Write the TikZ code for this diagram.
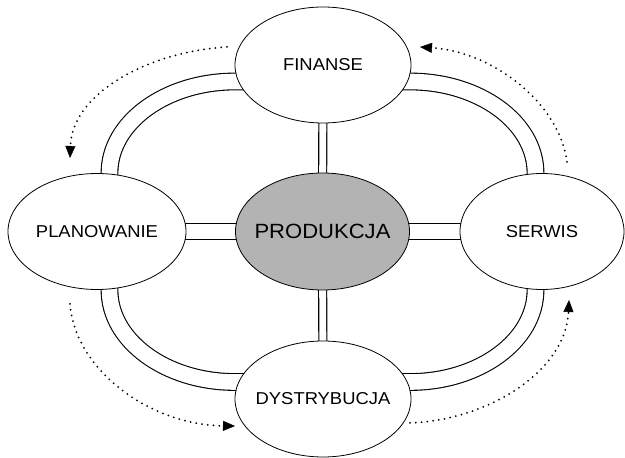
\documentclass[tikz,border=0pt]{standalone}
\usepackage{fontspec}
\setmainfont{Liberation Sans}[FakeStretch=1.07]
\usetikzlibrary{shapes.geometric,arrows.meta,backgrounds}
\definecolor{prodgray}{RGB}{179,179,179}
\begin{document}
\begin{tikzpicture}[x=1pt,y=1pt,
  bubble/.style={ellipse, draw, line width=0.8pt, fill=white, inner ysep=0pt, inner xsep=-14pt,
                 font=\fontsize{17.2}{20}\selectfont},
  link/.style={line width=1.1pt, double=white, double distance=#1},
  flow/.style={line width=2pt, line cap=round, dash pattern=on 0pt off 5.8pt,
               -{Triangle[length=12pt,width=10pt,line width=0.4pt]}},
]
\useasboundingbox (0,0) rectangle (625,458);

% nodes
\node[bubble, minimum width=176pt, minimum height=116pt] (fin)  at (323,393)   {FINANSE};
\node[bubble, minimum width=178pt, minimum height=116pt] (plan) at (97,226.5)  {PLANOWANIE};
\node[bubble, minimum width=174pt, minimum height=117pt, fill=prodgray,
      font=\fontsize{20.6}{24}\selectfont] (prod) at (322.5,226.5) {PRODUKCJA};
\node[bubble, minimum width=164pt, minimum height=116pt] (serw) at (542,226.5)  {SERWIS};
\node[bubble, minimum width=176pt, minimum height=116pt] (dys)  at (323,59)    {DYSTRYBUCJA};

% loop ends (hidden inside the ellipses)
\coordinate (lp) at (109.5,226.5);
\coordinate (lf) at (323,376.5);
\coordinate (ls) at (535.5,226.5);
\coordinate (ld) at (323,76);

% dotted arrow ends
\coordinate (a1s) at (227,411); \coordinate (a1e) at (70,300);
\coordinate (a2s) at (567,296); \coordinate (a2e) at (420,411);
\coordinate (a3s) at (70,154);  \coordinate (a3e) at (235,32);
\coordinate (a4s) at (410,35);  \coordinate (a4e) at (569,158);

\begin{scope}[on background layer]
  % cross
  \draw[link=6.9pt] (fin.center) -- (prod.center);
  \draw[link=6.9pt] (prod.center) -- (dys.center);
  \draw[link=14.9pt] (plan.center) -- (prod.center);
  \draw[link=14.9pt] (prod.center) -- (serw.center);
  % outer loop
  \draw[link=15.6pt] (lp) -- (109.5,285) .. controls (109.5,335.5) and (165.7,376.5) .. (235,376.5) -- (lf);
  \draw[link=15.6pt] (lf) -- (410,376.5) .. controls (479.3,376.5) and (535.5,335.5) .. (535.5,285) -- (ls);
  \draw[link=15.6pt] (ls) -- (535.5,168) .. controls (535.5,117.2) and (479.3,76) .. (410,76) -- (ld);
  \draw[link=15.6pt] (ld) -- (235,76) .. controls (165.7,76) and (109.5,117.2) .. (109.5,168) -- (lp);
\end{scope}

% dotted arrows
\draw[flow] (a1s) .. controls (145,406) and (72,363) .. (a1e);
\draw[flow] (a2s) .. controls (560,353) and (495,406) .. (a2e);
\draw[flow] (a3s) .. controls (75,88) and (150,33) .. (a3e);
\draw[flow] (a4s) .. controls (490,38) and (566,88) .. (a4e);
\end{tikzpicture}
\end{document}
